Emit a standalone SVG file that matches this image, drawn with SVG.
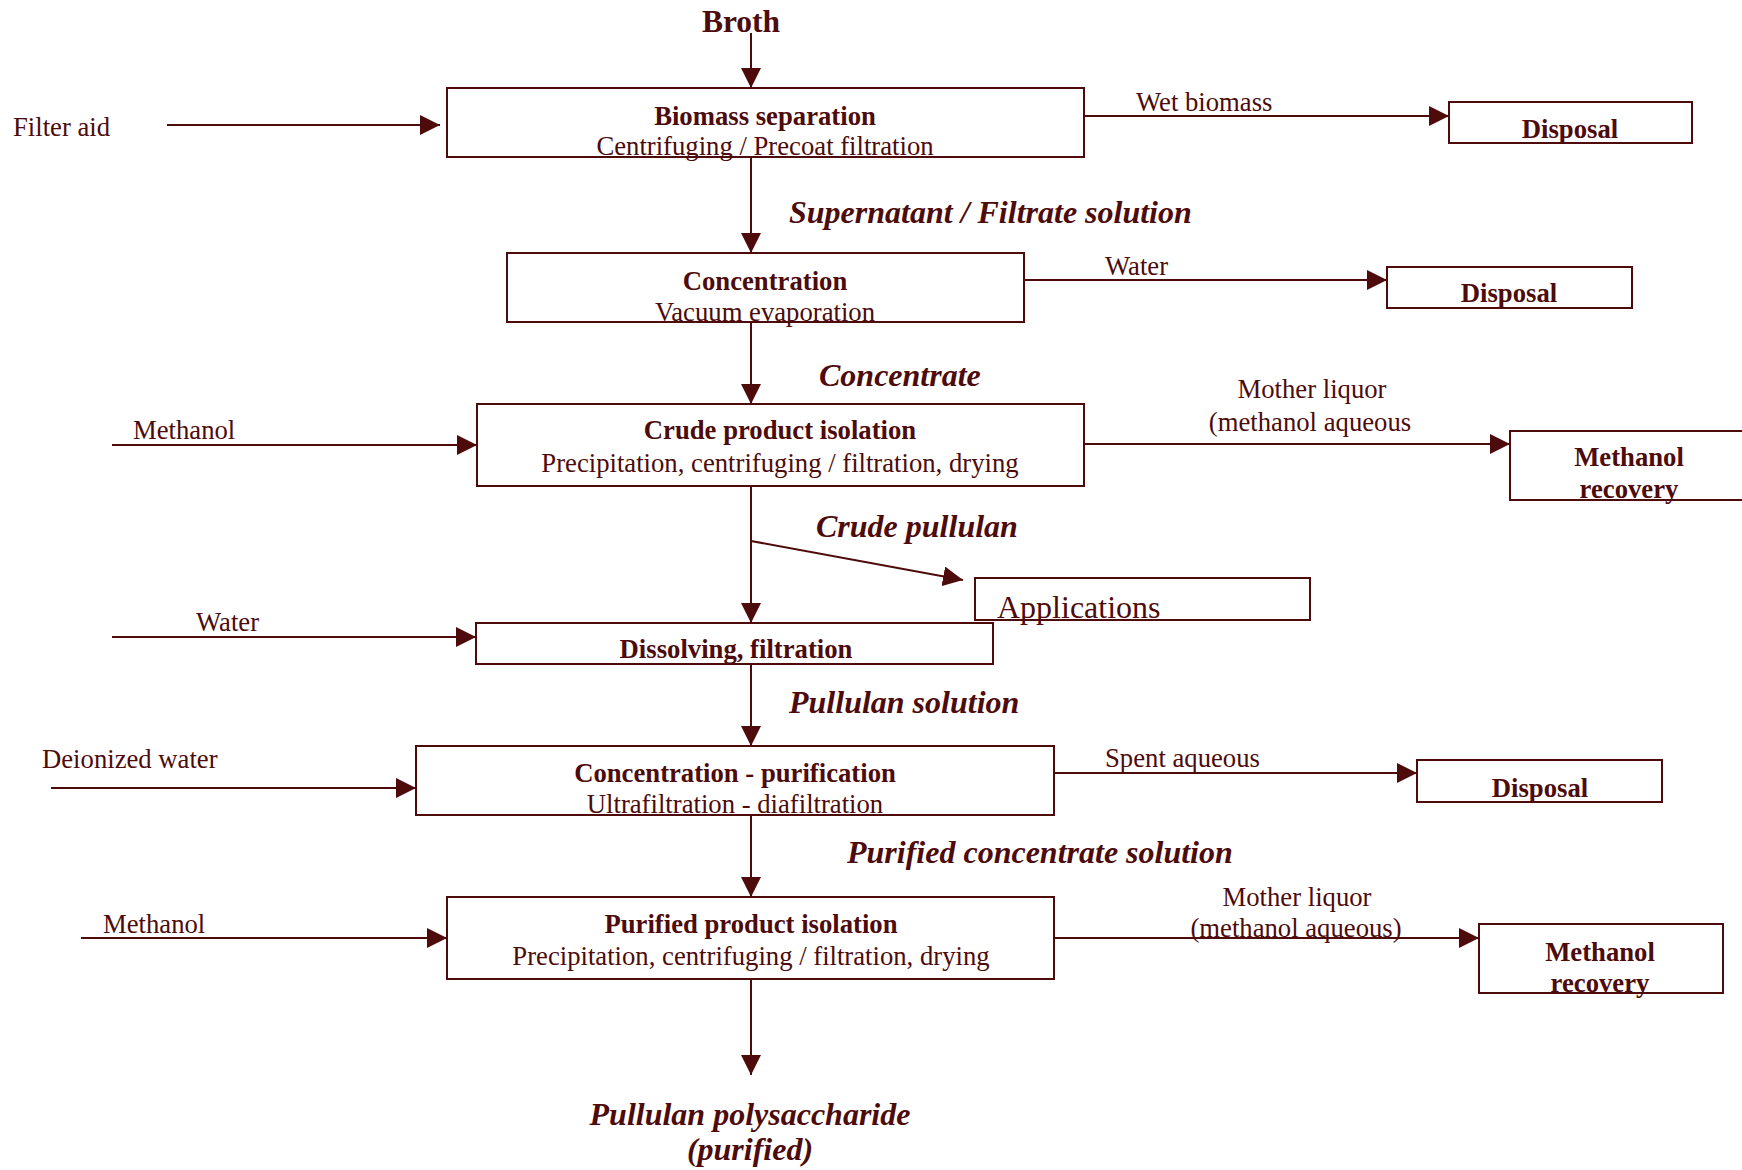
<svg xmlns="http://www.w3.org/2000/svg" width="1742" height="1170" viewBox="0 0 1742 1170">
<style>
  .box{fill:#fff;stroke:#4d0b0b;stroke-width:2}
  .ln{fill:none;stroke:#4d0b0b;stroke-width:2;marker-end:url(#ah)}
  text{font-family:"Liberation Serif","Times New Roman",serif;fill:#4d0b0b;font-size:26.7px}
  .b{font-weight:bold}
  .bi{font-weight:bold;font-style:italic;font-size:32px}
  .c{text-anchor:middle}
</style>
<defs>
  <marker id="ah" viewBox="0 0 20 20" refX="20" refY="10" markerWidth="20" markerHeight="20" markerUnits="userSpaceOnUse" orient="auto">
    <path d="M0,0 L20,10 L0,20 z" fill="#4d0b0b"/>
  </marker>
</defs>
<rect width="1742" height="1170" fill="#fff"/>

<g id="connectors">
  <path class="ln" d="M751,33 V88"/>
  <path class="ln" d="M167,125 H440"/>
  <path class="ln" d="M751,157 V253"/>
  <path class="ln" d="M1084,116 H1449"/>
  <path class="ln" d="M1024,280 H1387"/>
  <path class="ln" d="M751,322 V404"/>
  <path class="ln" d="M112,445 H477"/>
  <path class="ln" d="M1084,444 H1510"/>
  <path class="ln" d="M751,486 V623"/>
  <path class="ln" d="M751,541 L963,580"/>
  <path class="ln" d="M112,637 H476"/>
  <path class="ln" d="M751,664 V746"/>
  <path class="ln" d="M51,788 H416"/>
  <path class="ln" d="M1053,773 H1417"/>
  <path class="ln" d="M751,815 V897"/>
  <path class="ln" d="M81,938 H447"/>
  <path class="ln" d="M1053,938 H1479"/>
  <path class="ln" d="M751,979 V1075"/>
</g>

<g id="edge-labels">
  <text x="13" y="136">Filter aid</text>
  <text x="1136" y="111">Wet biomass</text>
  <text class="bi" x="789" y="223">Supernatant / Filtrate solution</text>
  <text x="1105" y="275">Water</text>
  <text class="bi" x="819" y="386">Concentrate</text>
  <text x="133" y="439">Methanol</text>
  <text class="c" x="1312" y="398">Mother liquor</text>
  <text class="c" x="1310" y="431">(methanol aqueous</text>
  <text class="bi" x="816" y="537">Crude pullulan</text>
  <text x="196" y="631">Water</text>
  <text class="bi" x="789" y="713">Pullulan solution</text>
  <text x="42" y="768">Deionized water</text>
  <text x="1105" y="767">Spent aqueous</text>
  <text class="bi" x="847" y="863">Purified concentrate solution</text>
  <text x="103" y="933">Methanol</text>
  <text class="c" x="1297" y="906">Mother liquor</text>
  <text class="c" x="1296" y="937">(methanol aqueous)</text>
</g>

<g id="broth"><text class="b c" x="741" y="32" style="font-size:31.5px">Broth</text></g>

<g id="biomass-separation">
  <rect class="box" x="447" y="88" width="637" height="69"/>
  <text class="b c" x="765" y="125">Biomass separation</text>
  <text class="c" x="765" y="155">Centrifuging / Precoat filtration</text>
</g>
<g id="disposal-1">
  <rect class="box" x="1449" y="102" width="243" height="41"/>
  <text class="b c" x="1570" y="138">Disposal</text>
</g>
<g id="concentration">
  <rect class="box" x="507" y="253" width="517" height="69"/>
  <text class="b c" x="765" y="290">Concentration</text>
  <text class="c" x="765" y="321">Vacuum evaporation</text>
</g>
<g id="disposal-2">
  <rect class="box" x="1387" y="267" width="245" height="41"/>
  <text class="b c" x="1509" y="302">Disposal</text>
</g>
<g id="crude-product-isolation">
  <rect class="box" x="477" y="404" width="607" height="82"/>
  <text class="b c" x="780" y="439">Crude product isolation</text>
  <text class="c" x="780" y="472">Precipitation, centrifuging / filtration, drying</text>
</g>
<g id="methanol-recovery-1">
  <rect class="box" x="1510" y="431" width="240" height="69"/>
  <text class="b c" x="1629" y="466">Methanol</text>
  <text class="b c" x="1629" y="498">recovery</text>
</g>
<g id="applications">
  <rect class="box" x="975" y="578" width="335" height="42"/>
  <text x="997" y="618" style="font-size:32px">Applications</text>
</g>
<g id="dissolving-filtration">
  <rect class="box" x="476" y="623" width="517" height="41"/>
  <text class="b c" x="736" y="658">Dissolving, filtration</text>
</g>
<g id="concentration-purification">
  <rect class="box" x="416" y="746" width="638" height="69"/>
  <text class="b c" x="735" y="782">Concentration - purification</text>
  <text class="c" x="735" y="813">Ultrafiltration - diafiltration</text>
</g>
<g id="disposal-3">
  <rect class="box" x="1417" y="760" width="245" height="42"/>
  <text class="b c" x="1540" y="797">Disposal</text>
</g>
<g id="purified-product-isolation">
  <rect class="box" x="447" y="897" width="607" height="82"/>
  <text class="b c" x="751" y="933">Purified product isolation</text>
  <text class="c" x="751" y="965">Precipitation, centrifuging / filtration, drying</text>
</g>
<g id="methanol-recovery-2">
  <rect class="box" x="1479" y="924" width="244" height="69"/>
  <text class="b c" x="1600" y="961">Methanol</text>
  <text class="b c" x="1600" y="992">recovery</text>
</g>
<g id="pullulan-polysaccharide">
  <text class="bi c" x="750" y="1125">Pullulan polysaccharide</text>
  <text class="bi c" x="750" y="1160">(purified)</text>
</g>
</svg>
